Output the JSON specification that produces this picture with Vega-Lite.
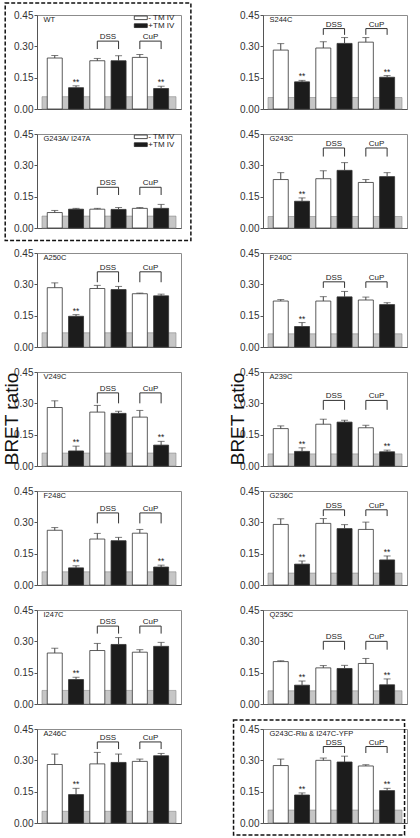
{
"$schema": "https://vega.github.io/schema/vega-lite/v6.json",
"padding": {"left": 2, "top": 1, "right": 0, "bottom": 0},
"background": "white",
"data": {"values": [
{"k":"m","p":"WT","r":1,"c":1,"band":0.059,"bh":0.325,"bl":0.287,"lg":1},
{"k":"m","p":"G243A/ I247A","r":2,"c":1,"band":0.057,"bh":0.195,"bl":0.158,"lg":1},
{"k":"m","p":"A250C","r":3,"c":1,"band":0.068,"bh":0.36,"bl":0.31,"lg":0},
{"k":"m","p":"V249C","r":4,"c":1,"band":0.062,"bh":0.35,"bl":0.30,"lg":0},
{"k":"m","p":"F248C","r":5,"c":1,"band":0.063,"bh":0.345,"bl":0.295,"lg":0},
{"k":"m","p":"I247C","r":6,"c":1,"band":0.065,"bh":0.373,"bl":0.337,"lg":0},
{"k":"m","p":"A246C","r":7,"c":1,"band":0.056,"bh":0.388,"bl":0.354,"lg":0},
{"k":"m","p":"S244C","r":1,"c":2,"band":0.055,"bh":0.385,"bl":0.355,"lg":0},
{"k":"m","p":"G243C","r":2,"c":2,"band":0.055,"bh":0.383,"bl":0.342,"lg":0},
{"k":"m","p":"F240C","r":3,"c":2,"band":0.063,"bh":0.312,"bl":0.283,"lg":0},
{"k":"m","p":"A239C","r":4,"c":2,"band":0.058,"bh":0.314,"bl":0.269,"lg":0},
{"k":"m","p":"G236C","r":5,"c":2,"band":0.057,"bh":0.36,"bl":0.33,"lg":0},
{"k":"m","p":"Q235C","r":6,"c":2,"band":0.063,"bh":0.30,"bl":0.26,"lg":0},
{"k":"m","p":"G243C-Rlu & I247C-YFP","r":7,"c":2,"band":0.062,"bh":0.366,"bl":0.335,"lg":0},

{"k":"b","r":1,"c":1,"b":1,"t":"-","m":0.244,"e":0.256,"s":0},
{"k":"b","r":1,"c":1,"b":2,"t":"+","m":0.102,"e":0.111,"s":1},
{"k":"b","r":1,"c":1,"b":3,"t":"-","m":0.231,"e":0.242,"s":0},
{"k":"b","r":1,"c":1,"b":4,"t":"+","m":0.231,"e":0.255,"s":0},
{"k":"b","r":1,"c":1,"b":5,"t":"-","m":0.247,"e":0.261,"s":0},
{"k":"b","r":1,"c":1,"b":6,"t":"+","m":0.098,"e":0.109,"s":1},

{"k":"b","r":2,"c":1,"b":1,"t":"-","m":0.074,"e":0.084,"s":0},
{"k":"b","r":2,"c":1,"b":2,"t":"+","m":0.090,"e":0.094,"s":0},
{"k":"b","r":2,"c":1,"b":3,"t":"-","m":0.090,"e":0.094,"s":0},
{"k":"b","r":2,"c":1,"b":4,"t":"+","m":0.089,"e":0.098,"s":0},
{"k":"b","r":2,"c":1,"b":5,"t":"-","m":0.094,"e":0.098,"s":0},
{"k":"b","r":2,"c":1,"b":6,"t":"+","m":0.094,"e":0.113,"s":0},

{"k":"b","r":3,"c":1,"b":1,"t":"-","m":0.284,"e":0.307,"s":0},
{"k":"b","r":3,"c":1,"b":2,"t":"+","m":0.147,"e":0.155,"s":1},
{"k":"b","r":3,"c":1,"b":3,"t":"-","m":0.280,"e":0.295,"s":0},
{"k":"b","r":3,"c":1,"b":4,"t":"+","m":0.275,"e":0.290,"s":0},
{"k":"b","r":3,"c":1,"b":5,"t":"-","m":0.255,"e":0.258,"s":0},
{"k":"b","r":3,"c":1,"b":6,"t":"+","m":0.245,"e":0.253,"s":0},

{"k":"b","r":4,"c":1,"b":1,"t":"-","m":0.280,"e":0.312,"s":0},
{"k":"b","r":4,"c":1,"b":2,"t":"+","m":0.072,"e":0.095,"s":1},
{"k":"b","r":4,"c":1,"b":3,"t":"-","m":0.258,"e":0.290,"s":0},
{"k":"b","r":4,"c":1,"b":4,"t":"+","m":0.252,"e":0.262,"s":0},
{"k":"b","r":4,"c":1,"b":5,"t":"-","m":0.234,"e":0.266,"s":0},
{"k":"b","r":4,"c":1,"b":6,"t":"+","m":0.100,"e":0.118,"s":1},

{"k":"b","r":5,"c":1,"b":1,"t":"-","m":0.262,"e":0.275,"s":0},
{"k":"b","r":5,"c":1,"b":2,"t":"+","m":0.082,"e":0.092,"s":1},
{"k":"b","r":5,"c":1,"b":3,"t":"-","m":0.220,"e":0.247,"s":0},
{"k":"b","r":5,"c":1,"b":4,"t":"+","m":0.212,"e":0.228,"s":0},
{"k":"b","r":5,"c":1,"b":5,"t":"-","m":0.248,"e":0.266,"s":0},
{"k":"b","r":5,"c":1,"b":6,"t":"+","m":0.086,"e":0.095,"s":1},

{"k":"b","r":6,"c":1,"b":1,"t":"-","m":0.244,"e":0.267,"s":0},
{"k":"b","r":6,"c":1,"b":2,"t":"+","m":0.117,"e":0.128,"s":1},
{"k":"b","r":6,"c":1,"b":3,"t":"-","m":0.256,"e":0.290,"s":0},
{"k":"b","r":6,"c":1,"b":4,"t":"+","m":0.285,"e":0.318,"s":0},
{"k":"b","r":6,"c":1,"b":5,"t":"-","m":0.248,"e":0.260,"s":0},
{"k":"b","r":6,"c":1,"b":6,"t":"+","m":0.276,"e":0.295,"s":0},

{"k":"b","r":7,"c":1,"b":1,"t":"-","m":0.280,"e":0.330,"s":0},
{"k":"b","r":7,"c":1,"b":2,"t":"+","m":0.136,"e":0.166,"s":1},
{"k":"b","r":7,"c":1,"b":3,"t":"-","m":0.283,"e":0.338,"s":0},
{"k":"b","r":7,"c":1,"b":4,"t":"+","m":0.290,"e":0.330,"s":0},
{"k":"b","r":7,"c":1,"b":5,"t":"-","m":0.295,"e":0.306,"s":0},
{"k":"b","r":7,"c":1,"b":6,"t":"+","m":0.322,"e":0.333,"s":0},

{"k":"b","r":1,"c":2,"b":1,"t":"-","m":0.282,"e":0.313,"s":0},
{"k":"b","r":1,"c":2,"b":2,"t":"+","m":0.130,"e":0.137,"s":1},
{"k":"b","r":1,"c":2,"b":3,"t":"-","m":0.292,"e":0.322,"s":0},
{"k":"b","r":1,"c":2,"b":4,"t":"+","m":0.314,"e":0.342,"s":0},
{"k":"b","r":1,"c":2,"b":5,"t":"-","m":0.320,"e":0.342,"s":0},
{"k":"b","r":1,"c":2,"b":6,"t":"+","m":0.152,"e":0.160,"s":1},

{"k":"b","r":2,"c":2,"b":1,"t":"-","m":0.232,"e":0.265,"s":0},
{"k":"b","r":2,"c":2,"b":2,"t":"+","m":0.128,"e":0.144,"s":1},
{"k":"b","r":2,"c":2,"b":3,"t":"-","m":0.236,"e":0.274,"s":0},
{"k":"b","r":2,"c":2,"b":4,"t":"+","m":0.276,"e":0.313,"s":0},
{"k":"b","r":2,"c":2,"b":5,"t":"-","m":0.218,"e":0.232,"s":0},
{"k":"b","r":2,"c":2,"b":6,"t":"+","m":0.246,"e":0.265,"s":0},

{"k":"b","r":3,"c":2,"b":1,"t":"-","m":0.220,"e":0.227,"s":0},
{"k":"b","r":3,"c":2,"b":2,"t":"+","m":0.098,"e":0.117,"s":1},
{"k":"b","r":3,"c":2,"b":3,"t":"-","m":0.220,"e":0.241,"s":0},
{"k":"b","r":3,"c":2,"b":4,"t":"+","m":0.240,"e":0.266,"s":0},
{"k":"b","r":3,"c":2,"b":5,"t":"-","m":0.225,"e":0.239,"s":0},
{"k":"b","r":3,"c":2,"b":6,"t":"+","m":0.203,"e":0.212,"s":0},

{"k":"b","r":4,"c":2,"b":1,"t":"-","m":0.179,"e":0.192,"s":0},
{"k":"b","r":4,"c":2,"b":2,"t":"+","m":0.070,"e":0.087,"s":1},
{"k":"b","r":4,"c":2,"b":3,"t":"-","m":0.200,"e":0.224,"s":0},
{"k":"b","r":4,"c":2,"b":4,"t":"+","m":0.210,"e":0.219,"s":0},
{"k":"b","r":4,"c":2,"b":5,"t":"-","m":0.183,"e":0.195,"s":0},
{"k":"b","r":4,"c":2,"b":6,"t":"+","m":0.068,"e":0.076,"s":1},

{"k":"b","r":5,"c":2,"b":1,"t":"-","m":0.290,"e":0.317,"s":0},
{"k":"b","r":5,"c":2,"b":2,"t":"+","m":0.100,"e":0.115,"s":1},
{"k":"b","r":5,"c":2,"b":3,"t":"-","m":0.295,"e":0.318,"s":0},
{"k":"b","r":5,"c":2,"b":4,"t":"+","m":0.270,"e":0.289,"s":0},
{"k":"b","r":5,"c":2,"b":5,"t":"-","m":0.266,"e":0.301,"s":0},
{"k":"b","r":5,"c":2,"b":6,"t":"+","m":0.120,"e":0.139,"s":1},

{"k":"b","r":6,"c":2,"b":1,"t":"-","m":0.203,"e":0.207,"s":0},
{"k":"b","r":6,"c":2,"b":2,"t":"+","m":0.090,"e":0.110,"s":1},
{"k":"b","r":6,"c":2,"b":3,"t":"-","m":0.173,"e":0.184,"s":0},
{"k":"b","r":6,"c":2,"b":4,"t":"+","m":0.170,"e":0.185,"s":0},
{"k":"b","r":6,"c":2,"b":5,"t":"-","m":0.194,"e":0.218,"s":0},
{"k":"b","r":6,"c":2,"b":6,"t":"+","m":0.092,"e":0.120,"s":1},

{"k":"b","r":7,"c":2,"b":1,"t":"-","m":0.275,"e":0.306,"s":0},
{"k":"b","r":7,"c":2,"b":2,"t":"+","m":0.134,"e":0.144,"s":1},
{"k":"b","r":7,"c":2,"b":3,"t":"-","m":0.300,"e":0.311,"s":0},
{"k":"b","r":7,"c":2,"b":4,"t":"+","m":0.292,"e":0.320,"s":0},
{"k":"b","r":7,"c":2,"b":5,"t":"-","m":0.273,"e":0.279,"s":0},
{"k":"b","r":7,"c":2,"b":6,"t":"+","m":0.155,"e":0.166,"s":1}
]},
"facet": {
  "row": {"field": "r", "type": "ordinal", "title": null, "header": {"title": null, "labels": false}},
  "column": {"field": "c", "type": "ordinal", "title": null, "header": {"title": null, "labels": false}}
},
"spacing": {"row": 25, "column": 82},
"bounds": "flush",
"resolve": {"axis": {"x": "independent", "y": "independent"}},
"spec": {
  "width": 144,
  "height": 94,
  "layer": [
    {"transform": [{"filter": "datum.k=='m'"}],
     "mark": {"type": "rect", "fill": "#c6c6c6", "stroke": "#8a8a8a", "strokeWidth": 0.6},
     "encoding": {
       "x": {"datum": 0.4, "type": "quantitative", "title": null, "scale": {"domain": [0.4, 6.7], "nice": false, "zero": false}, "axis": {"labels": false, "ticks": false, "grid": false, "domainColor": "#555", "title": null}},
       "x2": {"datum": 6.7},
       "y": {"field": "band", "type": "quantitative", "title": null, "scale": {"domain": [0, 0.45], "nice": false, "zero": true}, "axis": {"values": [0, 0.15, 0.3, 0.45], "tickCount": 10, "format": ".2f", "tickSize": 3, "labelFontSize": 10, "labelColor": "#333", "domainColor": "#555", "tickColor": "#555", "grid": false, "labelPadding": 1, "labelOverlap": false, "title": null}},
       "y2": {"datum": 0}
     }},
    {"transform": [{"filter": "datum.k=='b'"}],
     "mark": {"type": "bar", "width": 15, "stroke": "#333", "strokeWidth": 0.8},
     "encoding": {
       "x": {"field": "b", "type": "quantitative", "title": null},
       "y": {"field": "m", "type": "quantitative", "title": null},
       "fill": {"field": "t", "type": "nominal", "scale": {"domain": ["-", "+"], "range": ["#ffffff", "#1c1c1c"]}, "legend": null}
     }},
    {"transform": [{"filter": "datum.k=='b'"}],
     "mark": {"type": "rule", "color": "#444", "strokeWidth": 1},
     "encoding": {
       "x": {"field": "b", "type": "quantitative", "title": null},
       "y": {"field": "m", "type": "quantitative", "title": null},
       "y2": {"field": "e"}
     }},
    {"transform": [{"filter": "datum.k=='b'"}],
     "mark": {"type": "tick", "orient": "horizontal", "size": 7, "thickness": 1, "color": "#444"},
     "encoding": {
       "x": {"field": "b", "type": "quantitative", "title": null},
       "y": {"field": "e", "type": "quantitative", "title": null}
     }},
    {"transform": [{"filter": "datum.k=='b' && datum.s==1"}],
     "mark": {"type": "text", "text": "**", "fontSize": 8.5, "baseline": "bottom", "dy": 1, "color": "#222"},
     "encoding": {
       "x": {"field": "b", "type": "quantitative", "title": null},
       "y": {"field": "e", "type": "quantitative", "title": null}
     }},
    {"transform": [{"filter": "datum.k=='m'"}],
     "mark": {"type": "rule", "color": "#333", "strokeWidth": 1},
     "encoding": {"x": {"datum": 3, "type": "quantitative", "title": null}, "y": {"field": "bl", "type": "quantitative", "title": null}, "y2": {"field": "bh"}}},
    {"transform": [{"filter": "datum.k=='m'"}],
     "mark": {"type": "rule", "color": "#333", "strokeWidth": 1},
     "encoding": {"x": {"datum": 4, "type": "quantitative", "title": null}, "y": {"field": "bl", "type": "quantitative", "title": null}, "y2": {"field": "bh"}}},
    {"transform": [{"filter": "datum.k=='m'"}],
     "mark": {"type": "rule", "color": "#333", "strokeWidth": 1},
     "encoding": {"x": {"datum": 5, "type": "quantitative", "title": null}, "y": {"field": "bl", "type": "quantitative", "title": null}, "y2": {"field": "bh"}}},
    {"transform": [{"filter": "datum.k=='m'"}],
     "mark": {"type": "rule", "color": "#333", "strokeWidth": 1},
     "encoding": {"x": {"datum": 6, "type": "quantitative", "title": null}, "y": {"field": "bl", "type": "quantitative", "title": null}, "y2": {"field": "bh"}}},
    {"transform": [{"filter": "datum.k=='m'"}],
     "mark": {"type": "rule", "color": "#333", "strokeWidth": 1},
     "encoding": {"x": {"datum": 3, "type": "quantitative", "title": null}, "x2": {"datum": 4}, "y": {"field": "bh", "type": "quantitative", "title": null}}},
    {"transform": [{"filter": "datum.k=='m'"}],
     "mark": {"type": "rule", "color": "#333", "strokeWidth": 1},
     "encoding": {"x": {"datum": 5, "type": "quantitative", "title": null}, "x2": {"datum": 6}, "y": {"field": "bh", "type": "quantitative", "title": null}}},
    {"transform": [{"filter": "datum.k=='m'"}],
     "mark": {"type": "text", "text": "DSS", "fontSize": 8, "baseline": "bottom", "dy": 0, "color": "#222"},
     "encoding": {"x": {"datum": 3.5, "type": "quantitative", "title": null}, "y": {"field": "bh", "type": "quantitative", "title": null}}},
    {"transform": [{"filter": "datum.k=='m'"}],
     "mark": {"type": "text", "text": "CuP", "fontSize": 8, "baseline": "bottom", "dy": 0, "color": "#222"},
     "encoding": {"x": {"datum": 5.5, "type": "quantitative", "title": null}, "y": {"field": "bh", "type": "quantitative", "title": null}}},
    {"transform": [{"filter": "datum.k=='m'"}],
     "mark": {"type": "text", "fontSize": 7.5, "align": "left", "baseline": "top", "dy": 0.5, "color": "#222"},
     "encoding": {"x": {"datum": 0.47, "type": "quantitative", "title": null}, "y": {"datum": 0.45, "type": "quantitative", "title": null}, "text": {"field": "p"}}},
    {"transform": [{"filter": "datum.k=='m' && datum.lg==1"}],
     "mark": {"type": "rect", "fill": "#ffffff", "stroke": "#222", "strokeWidth": 0.8},
     "encoding": {"x": {"datum": 4.74, "type": "quantitative", "title": null}, "x2": {"datum": 5.35}, "y": {"datum": 0.445, "type": "quantitative", "title": null}, "y2": {"datum": 0.428}}},
    {"transform": [{"filter": "datum.k=='m' && datum.lg==1"}],
     "mark": {"type": "rect", "fill": "#1c1c1c", "stroke": "#222", "strokeWidth": 0.8},
     "encoding": {"x": {"datum": 4.74, "type": "quantitative", "title": null}, "x2": {"datum": 5.35}, "y": {"datum": 0.408, "type": "quantitative", "title": null}, "y2": {"datum": 0.39}}},
    {"transform": [{"filter": "datum.k=='m' && datum.lg==1"}],
     "mark": {"type": "text", "text": "- TM IV", "fontSize": 8, "align": "left", "baseline": "middle", "color": "#222"},
     "encoding": {"x": {"datum": 5.4, "type": "quantitative", "title": null}, "y": {"datum": 0.437, "type": "quantitative", "title": null}}},
    {"transform": [{"filter": "datum.k=='m' && datum.lg==1"}],
     "mark": {"type": "text", "text": "+TM IV", "fontSize": 8, "align": "left", "baseline": "middle", "color": "#222"},
     "encoding": {"x": {"datum": 5.4, "type": "quantitative", "title": null}, "y": {"datum": 0.399, "type": "quantitative", "title": null}}},
    {"transform": [{"filter": "datum.k=='m' && datum.r==4"}],
     "mark": {"type": "text", "text": "BRET ratio", "fontSize": 19, "angle": 270, "align": "center", "baseline": "middle", "color": "#111"},
     "encoding": {"x": {"datum": -1.0, "type": "quantitative", "title": null}, "y": {"datum": 0.225, "type": "quantitative", "title": null}}},
    {"transform": [{"filter": "datum.k=='m' && datum.p=='WT'"}],
     "mark": {"type": "rect", "fillOpacity": 0, "fill": "#ffffff", "stroke": "#111", "strokeWidth": 1.5, "strokeDash": [4, 2]},
     "encoding": {"x": {"datum": -1.33, "type": "quantitative", "title": null}, "x2": {"datum": 7.4}, "y": {"datum": 0.507, "type": "quantitative", "title": null}, "y2": {"datum": -0.63}}},
    {"transform": [{"filter": "datum.k=='m' && datum.r==7 && datum.c==2"}],
     "mark": {"type": "rect", "fillOpacity": 0, "fill": "#ffffff", "stroke": "#111", "strokeWidth": 1.5, "strokeDash": [4, 2]},
     "encoding": {"x": {"datum": -1.22, "type": "quantitative", "title": null}, "x2": {"datum": 6.82}, "y": {"datum": 0.493, "type": "quantitative", "title": null}, "y2": {"datum": -0.057}}}
  ]
},
"config": {
  "font": "Liberation Sans",
  "view": {"stroke": "#8c8c8c", "strokeWidth": 1}
}
}
